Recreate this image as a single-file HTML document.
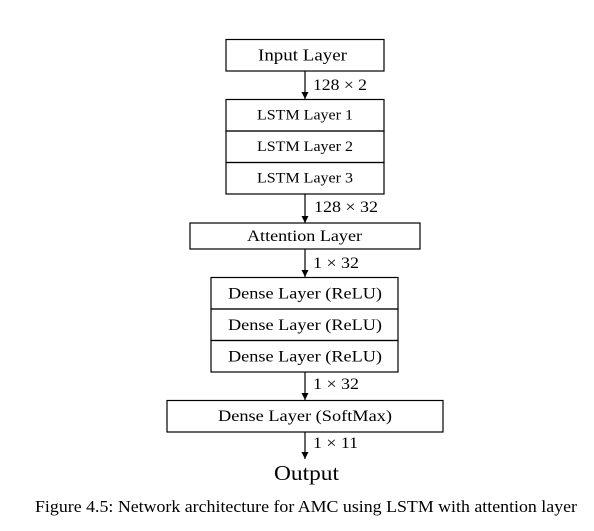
<!DOCTYPE html>
<html><head><meta charset="utf-8"><style>
body{margin:0;background:#fff}
svg text{font-family:"Liberation Serif",serif;fill:#000}
</style></head><body>
<svg width="594" height="526" viewBox="0 0 594 526">
<defs><marker id="ah" markerWidth="8" markerHeight="8" refX="7" refY="4" orient="auto" markerUnits="userSpaceOnUse"><path d="M0,0.5 L7,4 L0,7.5 Z" fill="#000"/></marker></defs>
<g stroke="#000" stroke-width="1.2" fill="none">
<rect x="226" y="39.5" width="158" height="31.5"/>
<rect x="226" y="99.5" width="158" height="31.5"/>
<rect x="226" y="131" width="158" height="31.5"/>
<rect x="226" y="162.5" width="158" height="31.5"/>
<rect x="190" y="223" width="230" height="26"/>
<rect x="211" y="277.5" width="187" height="31.5"/>
<rect x="211" y="309" width="187" height="31.5"/>
<rect x="211" y="340.5" width="187" height="31.5"/>
<rect x="167" y="400.5" width="276" height="31.5"/>
<line x1="305" y1="71" x2="305" y2="99" marker-end="url(#ah)"/>
<line x1="305" y1="194" x2="305" y2="223" marker-end="url(#ah)"/>
<line x1="305" y1="249" x2="305" y2="277" marker-end="url(#ah)"/>
<line x1="305" y1="372" x2="305" y2="400" marker-end="url(#ah)"/>
<line x1="305" y1="432" x2="305" y2="459" marker-end="url(#ah)"/>
</g>
<g font-size="16" text-anchor="middle" lengthAdjust="spacingAndGlyphs">
<text x="302.5" y="60.5" font-size="17" textLength="89" lengthAdjust="spacingAndGlyphs">Input Layer</text>
<text x="305" y="119.5" font-size="15" textLength="96" lengthAdjust="spacingAndGlyphs">LSTM Layer 1</text>
<text x="305" y="151" font-size="15" textLength="96" lengthAdjust="spacingAndGlyphs">LSTM Layer 2</text>
<text x="305" y="182.5" font-size="15" textLength="96" lengthAdjust="spacingAndGlyphs">LSTM Layer 3</text>
<text x="304.5" y="241" textLength="115" lengthAdjust="spacingAndGlyphs">Attention Layer</text>
<text x="305" y="298.5" textLength="154" lengthAdjust="spacingAndGlyphs">Dense Layer (ReLU)</text>
<text x="305" y="330" textLength="154" lengthAdjust="spacingAndGlyphs">Dense Layer (ReLU)</text>
<text x="305" y="361.5" textLength="154" lengthAdjust="spacingAndGlyphs">Dense Layer (ReLU)</text>
<text x="305" y="421" textLength="174" lengthAdjust="spacingAndGlyphs">Dense Layer (SoftMax)</text>
<text x="306.5" y="480" font-size="21" textLength="65" lengthAdjust="spacingAndGlyphs">Output</text>
</g>
<g font-size="16">
<text x="313" y="90" textLength="54" lengthAdjust="spacingAndGlyphs">128 × 2</text>
<text x="314" y="212" textLength="64" lengthAdjust="spacingAndGlyphs">128 × 32</text>
<text x="313" y="268" textLength="46" lengthAdjust="spacingAndGlyphs">1 × 32</text>
<text x="313" y="389" textLength="46" lengthAdjust="spacingAndGlyphs">1 × 32</text>
<text x="313" y="448" textLength="45" lengthAdjust="spacingAndGlyphs">1 × 11</text>
</g>
<text x="35" y="512" font-size="17" textLength="542" lengthAdjust="spacingAndGlyphs">Figure 4.5: Network architecture for AMC using LSTM with attention layer</text>
</svg>
</body></html>
